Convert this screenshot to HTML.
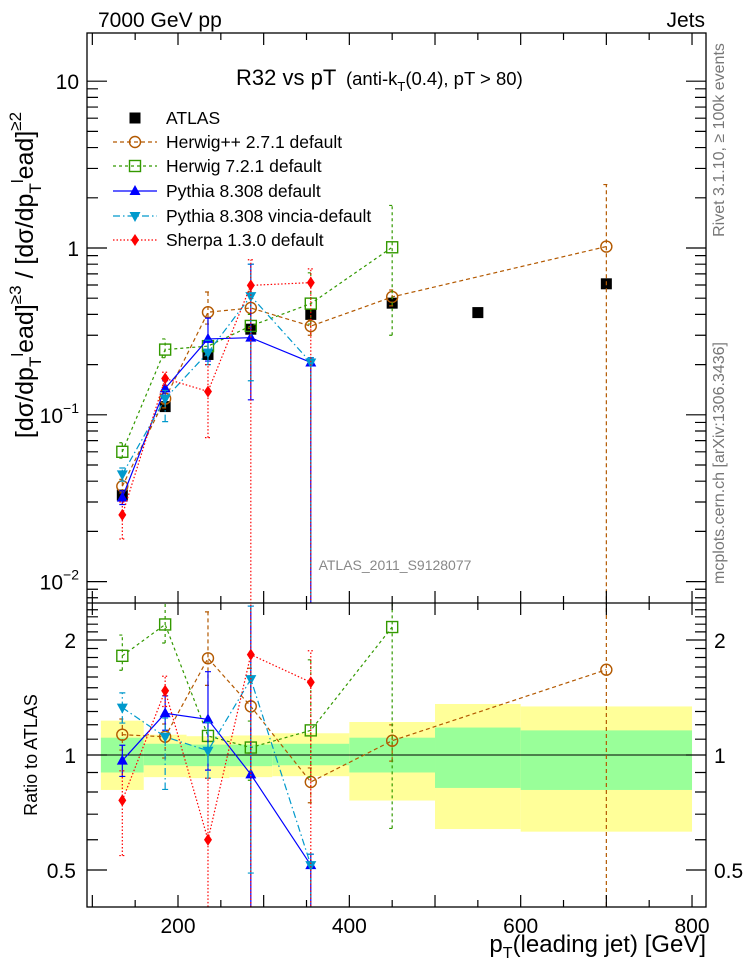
<!DOCTYPE html>
<html><head><meta charset="utf-8">
<style>
html,body{margin:0;padding:0;background:#fff;overflow:hidden;width:746px;height:972px;}
svg{display:block;font-family:"Liberation Sans",sans-serif;}
</style></head>
<body>
<svg id="chart" width="746" height="972" viewBox="0 0 746 972" xmlns="http://www.w3.org/2000/svg">
<g id="bands"></g>
<g id="marks"></g>
<g id="axes"></g>
<text x="98" y="27" font-size="21">7000 GeV pp</text>
<text x="705" y="27" font-size="21" text-anchor="end">Jets</text>
<text x="236" y="85" font-size="22">R32 vs pT <tspan font-size="18.5" dx="4">(anti-k</tspan><tspan font-size="13" dy="6">T</tspan><tspan font-size="18.5" dy="-6">(0.4), pT &gt; 80)</tspan></text>
<text x="395" y="570" font-size="14" fill="#888" text-anchor="middle">ATLAS_2011_S9128077</text>
<text transform="translate(724,140) rotate(-90)" font-size="16" fill="#777" text-anchor="middle">Rivet 3.1.10, ≥ 100k events</text>
<text transform="translate(724,463) rotate(-90)" font-size="16" fill="#777" text-anchor="middle">mcplots.cern.ch [arXiv:1306.3436]</text>
<text transform="translate(33,275) rotate(-90)" font-size="25" text-anchor="middle">[dσ/dp<tspan font-size="17" dy="8">T</tspan><tspan font-size="17" dy="-18">l</tspan><tspan dy="10">ead]</tspan><tspan font-size="17" dy="-12">≥3</tspan><tspan dy="12"> / [dσ/dp</tspan><tspan font-size="17" dy="8">T</tspan><tspan font-size="17" dy="-18">l</tspan><tspan dy="10">ead]</tspan><tspan font-size="17" dy="-12">≥2</tspan></text>
<text transform="translate(37,755) rotate(-90)" font-size="18" text-anchor="middle">Ratio to ATLAS</text>
<text x="706" y="952" font-size="24" text-anchor="end">p<tspan font-size="16" dy="6">T</tspan><tspan dy="-6">(leading jet) [GeV]</tspan></text>
<g id="legend"></g>
</svg>
<script>
// ---- data ----
const binCenters = [135, 185, 235, 285, 355, 450, 550, 700];
const binEdges = [110, 160, 210, 260, 310, 400, 500, 600, 800];
const atlasValues = [0.033, 0.112, 0.23, 0.326, 0.40, 0.467, 0.41, 0.61];
const herwigppValues = [0.0373, 0.125, 0.412, 0.437, 0.34, 0.509, null, 1.02];
const herwigppLo = [0.034, 0.11, 0.35, 0.33, 0.30, 0.45, null, 0.0001];
const herwigppHi = [0.041, 0.135, 0.545, 0.55, 0.37, 0.56, null, 2.4];
const herwig7Values = [0.060, 0.246, 0.258, 0.341, 0.464, 1.01];
const herwig7Lo = [0.055, 0.22, 0.23, 0.28, 0.35, 0.30];
const herwig7Hi = [0.068, 0.285, 0.28, 0.40, 0.71, 1.8];
const pythiaValues = [0.0319, 0.144, 0.285, 0.29, 0.206];
const pythiaLo = [0.029, 0.13, 0.21, 0.123, 0.0001];
const pythiaHi = [0.035, 0.16, 0.38, 0.8, 0.22];
const vinciaValues = [0.0439, 0.125, 0.236, 0.515, 0.206];
const vinciaLo = [0.040, 0.091, 0.20, 0.16, 0.0001];
const vinciaHi = [0.048, 0.14, 0.28, 0.8, 0.22];
const sherpaValues = [0.0251, 0.165, 0.138, 0.597, 0.62];
const sherpaLo = [0.018, 0.15, 0.073, 0.0001, 0.0001];
const sherpaHi = [0.030, 0.18, 0.20, 0.85, 0.75];
const bandYellowHi = [1.23, 1.13, 1.12, 1.125, 1.14, 1.22, 1.36, 1.34];
const bandYellowLo = [0.81, 0.875, 0.87, 0.875, 0.88, 0.76, 0.64, 0.63];
const bandGreenHi = [1.11, 1.07, 1.065, 1.065, 1.07, 1.11, 1.18, 1.16];
const bandGreenLo = [0.90, 0.94, 0.935, 0.935, 0.94, 0.90, 0.82, 0.81];
const xTickLabels = ["200", "400", "600", "800"];
const legendLabels = ["ATLAS", "Herwig++ 2.7.1 default", "Herwig 7.2.1 default", "Pythia 8.308 default", "Pythia 8.308 vincia-default", "Sherpa 1.3.0 default"];

// ---- geometry ----
const L = 87, R = 706, T = 33, MID = 603, B = 907;
const X = v => 178 + (v - 200) * 0.8567;
const Yu = v => 248 - 166.8 * Math.log10(v);
const Yr = v => 755 - 382 * Math.log10(v);
const NS = "http://www.w3.org/2000/svg";
function mk(tag, attrs, parent) {
  const e = document.createElementNS(NS, tag);
  for (const k in attrs) e.setAttribute(k, attrs[k]);
  parent.appendChild(e); return e;
}
const bands = document.getElementById('bands');
const marks = document.getElementById('marks');
const axes = document.getElementById('axes');
const legend = document.getElementById('legend');

const defs = mk('defs', {}, document.getElementById('chart'));
const cu = mk('clipPath', {id: 'cu'}, defs); mk('rect', {x: L, y: T, width: R - L, height: MID - T}, cu);
const cl = mk('clipPath', {id: 'cl'}, defs); mk('rect', {x: L, y: MID, width: R - L, height: B - MID}, cl);

for (let i = 0; i < binCenters.length; i++) {
  const x0 = X(binEdges[i]), x1 = X(binEdges[i + 1]);
  const y = mk('rect', {x: x0, y: Yr(bandYellowHi[i]), width: x1 - x0, height: Yr(bandYellowLo[i]) - Yr(bandYellowHi[i]), fill: '#ffff99'}, bands);
  
  
  const g = mk('rect', {x: x0, y: Yr(bandGreenHi[i]), width: x1 - x0, height: Yr(bandGreenLo[i]) - Yr(bandGreenHi[i]), fill: '#99ff99'}, bands);
  
  
}
const one = mk('line', {x1: L, x2: R, y1: Yr(1), y2: Yr(1), stroke: '#000', 'stroke-width': 1}, marks);



function marker(kind, color, cx, cy, parent) {
  let e;
  if (kind === 'sq') e = mk('rect', {x: cx - 5.5, y: cy - 5.5, width: 11, height: 11, fill: '#000'}, parent);
  else if (kind === 'circ') e = mk('circle', {cx: cx, cy: cy, r: 5.5, fill: 'none', stroke: color, 'stroke-width': 1.4}, parent);
  else if (kind === 'osq') e = mk('rect', {x: cx - 5.5, y: cy - 5.5, width: 11, height: 11, fill: 'none', stroke: color, 'stroke-width': 1.4}, parent);
  else if (kind === 'tri') e = mk('path', {d: `M${cx} ${cy - 6}L${cx + 5.5} ${cy + 4}L${cx - 5.5} ${cy + 4}Z`, fill: color}, parent);
  else if (kind === 'itri') e = mk('path', {d: `M${cx} ${cy + 6}L${cx + 5.5} ${cy - 4}L${cx - 5.5} ${cy - 4}Z`, fill: color}, parent);
  else e = mk('path', {d: `M${cx} ${cy - 6}L${cx + 4} ${cy}L${cx} ${cy + 6}L${cx - 4} ${cy}Z`, fill: color}, parent);
  return e;
}

const series = [
  {name: 'herwigpp', vals: herwigppValues, lo: herwigppLo, hi: herwigppHi, color: '#b35900', dash: '4,3', m: 'circ'},
  {name: 'herwig7', vals: herwig7Values, lo: herwig7Lo, hi: herwig7Hi, color: '#339900', dash: '3,3', m: 'osq'},
  {name: 'pythia', vals: pythiaValues, lo: pythiaLo, hi: pythiaHi, color: '#0000ff', dash: 'none', m: 'tri'},
  {name: 'vincia', vals: vinciaValues, lo: vinciaLo, hi: vinciaHi, color: '#0099cc', dash: '7,3,1.5,3', m: 'itri'},
  {name: 'sherpa', vals: sherpaValues, lo: sherpaLo, hi: sherpaHi, color: '#ff0000', dash: '1.5,2', m: 'dia'}
];

function drawPanel(Y, clip, isRatio) {
  const g = mk('g', {'clip-path': `url(#${clip})`}, marks);
  
  
  if (!isRatio) {
    atlasValues.forEach((v, i) => {
      const m = marker('sq', '#000', X(binCenters[i]), Y(v), g);
      
      
    });
  }
  series.forEach(s => {
    const pts = [];
    s.vals.forEach((v, i) => {
      if (v == null) return;
      const d = isRatio ? atlasValues[i] : 1;
      pts.push([X(binCenters[i]), Y(v / d), Y(s.lo[i] / d), Y(s.hi[i] / d)]);
    });
    const ln = mk('polyline', {points: pts.map(p => p[0] + ',' + p[1]).join(' '), fill: 'none', stroke: s.color, 'stroke-width': 1.2, 'stroke-dasharray': s.dash}, g);
    
    
    pts.forEach(p => {
      const eb = mk('path', {d: `M${p[0]} ${p[2]}V${p[3]}M${p[0] - 3} ${p[2]}h6M${p[0] - 3} ${p[3]}h6`, stroke: s.color, 'stroke-width': 1.2, 'stroke-dasharray': s.dash, fill: 'none'}, g);
      
      
      const m = marker(s.m, s.color, p[0], p[1], g);
      
      
    });
  });
}
drawPanel(Yu, 'cu', false);
drawPanel(Yr, 'cl', true);

const ap = {stroke: '#000', 'stroke-width': 1.3, fill: 'none'};
mk('rect', Object.assign({x: L, y: T, width: R - L, height: B - T}, ap), axes);
mk('line', Object.assign({x1: L, x2: R, y1: MID, y2: MID}, ap), axes);
let d = '';
for (let v = 100; v <= 800; v += 50) {
  const x = X(v), len = (v % 100 === 0) ? 12 : 7;
  d += `M${x} ${T}v${len}M${x} ${MID}v${-len}M${x} ${MID}v${len}M${x} ${B}v${-len}`;
}
for (let e = -3; e <= 1; e++) for (let k = 1; k <= 9; k++) {
  const v = k * Math.pow(10, e), y = Yu(v);
  if (y < T || y > MID) continue;
  const len = k === 1 ? 20 : 11;
  d += `M${L} ${y}h${len}M${R} ${y}h${-len}`;
}
[0.4,0.5,0.6,0.7,0.8,0.9,1,1.1,1.2,1.3,1.4,1.5,1.6,1.7,1.8,1.9,2,2.1,2.2,2.3,2.4,2.5].forEach(v => {
  const y = Yr(v); if (y < MID || y > B) return;
  const len = (v === 0.5 || v === 1 || v === 2) ? 20 : 11;
  d += `M${L} ${y}h${len}M${R} ${y}h${-len}`;
});
const tk = mk('path', {d: d, stroke: '#000', 'stroke-width': 1.2}, axes);



function lbl(x, y, s, anchor, name, size) {
  const t = mk('text', {x: x, y: y, 'font-size': size || 21, 'text-anchor': anchor}, axes);
  t.textContent = s;
  
  
  return t;
}
xTickLabels.forEach(s => lbl(X(+s), 933, s, 'middle', 'x-tick-label'));
lbl(79, Yu(10) + 8, '10', 'end', 'y-tick-label');
lbl(79, Yu(1) + 8, '1', 'end', 'y-tick-label');
[[0.1, '−1'], [0.01, '−2']].forEach(([v, ex]) => {
  const t = lbl(79, Yu(v) + 8, '', 'end', 'y-tick-label');
  t.innerHTML = '10<tspan font-size="14" dy="-10">' + ex + '</tspan>';
});
[[2, '2'], [1, '1'], [0.5, '0.5']].forEach(([v, s]) => {
  lbl(76, Yr(v) + 8, s, 'end', 'ratio-tick-label');
  lbl(714, Yr(v) + 8, s, 'start', 'ratio-tick-label-right');
});

const legY = [118, 142, 166, 191, 216, 240];
legendLabels.forEach((s, i) => {
  const g = mk('g', {}, legend);
  
  
  const y = legY[i];
  if (i === 0) marker('sq', '#000', 135, y, g);
  else {
    const se = series[i - 1];
    mk('line', {x1: 113, x2: 157, y1: y, y2: y, stroke: se.color, 'stroke-width': 1.2, 'stroke-dasharray': se.dash}, g);
    marker(se.m, se.color, 135, y, g);
  }
  const t = mk('text', {x: 166, y: y + 6, 'font-size': 17.5}, g);
  t.textContent = s;
});
</script>
</body></html>
